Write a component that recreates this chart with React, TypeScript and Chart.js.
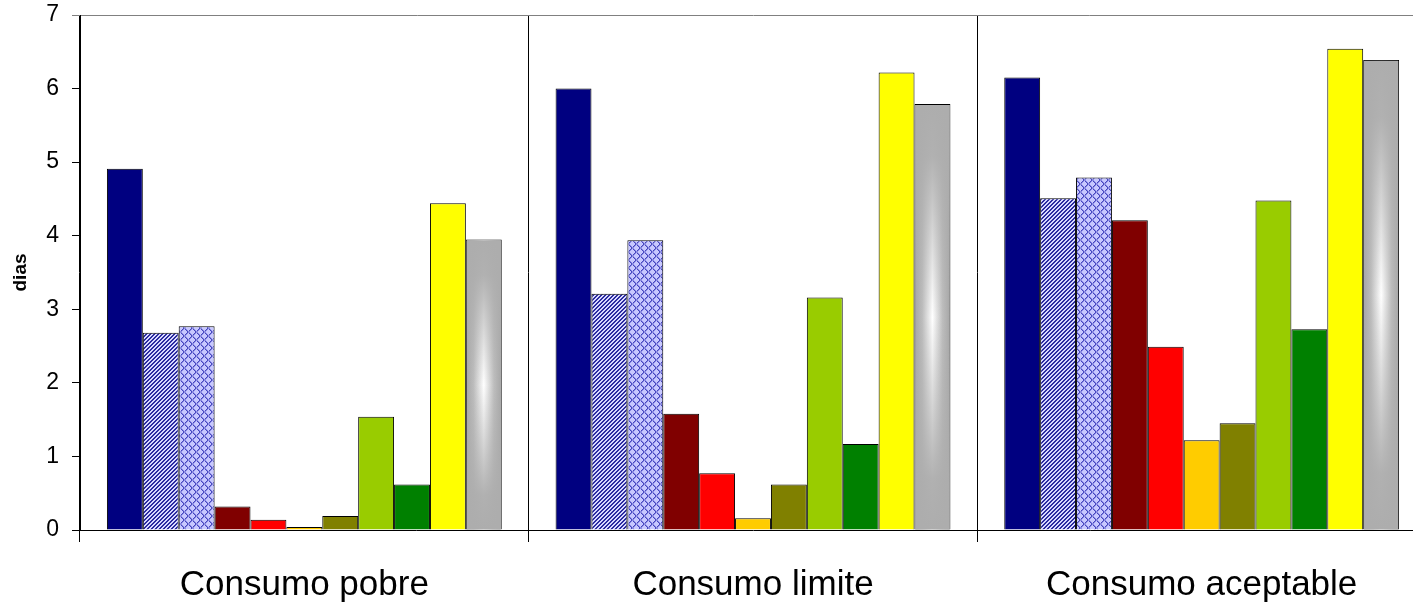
import React, { useEffect, useRef } from 'react';
import { Chart, registerables } from 'chart.js';

Chart.register(...registerables);

const categories = ['Consumo pobre', 'Consumo limite', 'Consumo aceptable'];
const yTicks = [0, 1, 2, 3, 4, 5, 6, 7];
const yTitle = 'dias';

const serieNavy = [4.91, 6.0, 6.15];
const serieHatch = [2.68, 3.21, 4.51];
const serieCross = [2.77, 3.94, 4.79];
const serieDarkRed = [0.32, 1.58, 4.21];
const serieRed = [0.14, 0.77, 2.49];
const serieGold = [0.04, 0.16, 1.22];
const serieOlive = [0.19, 0.62, 1.45];
const serieLightGreen = [1.54, 3.16, 4.48];
const serieDarkGreen = [0.62, 1.17, 2.73];
const serieYellow = [4.44, 6.22, 6.54];
const serieGray = [3.95, 5.79, 6.39];

function makeHatch(): CanvasPattern | string {
  const c = document.createElement('canvas');
  c.width = 4;
  c.height = 4;
  const g = c.getContext('2d');
  if (!g) return '#5555bb';
  g.fillStyle = '#d8d8ff';
  g.fillRect(0, 0, 4, 4);
  g.fillStyle = '#2b2ba0';
  for (let i = 0; i < 4; i++) {
    g.fillRect(i, 3 - i, 1, 1);
    g.fillRect((i + 1) % 4, 3 - i, 1, 1);
  }
  return g.createPattern(c, 'repeat') || '#5555bb';
}

function makeCross(): CanvasPattern | string {
  const n = 8;
  const c = document.createElement('canvas');
  c.width = n;
  c.height = n;
  const g = c.getContext('2d');
  if (!g) return '#ccccff';
  g.fillStyle = '#c8c8ff';
  g.fillRect(0, 0, n, n);
  g.fillStyle = '#4646c0';
  for (let i = 0; i < n; i++) {
    g.fillRect(i, i, 1, 1);
    g.fillRect(i, n - 1 - i, 1, 1);
  }
  g.fillStyle = '#8a8ae0';
  for (let i = 0; i < n; i++) {
    g.fillRect((i + 1) % n, i, 1, 1);
    g.fillRect((i + 1) % n, n - 1 - i, 1, 1);
  }
  return g.createPattern(c, 'repeat') || '#ccccff';
}

const grayIndex = 10;

const grayGradientPlugin = {
  id: 'grayGradient',
  afterDatasetDraw(chart: any, args: any) {
    if (args.index !== grayIndex) return;
    const ctx = chart.ctx as CanvasRenderingContext2D;
    args.meta.data.forEach((el: any) => {
      const { x, y, base, width } = el.getProps(['x', 'y', 'base', 'width'], true);
      const l = x - width / 2 + 1;
      const r = x + width / 2 - 1;
      const t = y + 1;
      const b = base;
      if (r <= l || b <= t) return;
      ctx.save();
      const hg = ctx.createLinearGradient(l, 0, r, 0);
      hg.addColorStop(0, '#a8a8a8');
      hg.addColorStop(0.2, '#bdbdbd');
      hg.addColorStop(0.5, '#ffffff');
      hg.addColorStop(0.8, '#bdbdbd');
      hg.addColorStop(1, '#a8a8a8');
      ctx.fillStyle = hg;
      ctx.fillRect(l, t, r - l, b - t);
      const vg = ctx.createLinearGradient(0, t, 0, b);
      vg.addColorStop(0, 'rgba(173,173,173,1)');
      vg.addColorStop(0.12, 'rgba(173,173,173,0.95)');
      vg.addColorStop(0.5, 'rgba(173,173,173,0)');
      vg.addColorStop(0.88, 'rgba(173,173,173,0.95)');
      vg.addColorStop(1, 'rgba(173,173,173,1)');
      ctx.fillStyle = vg;
      ctx.fillRect(l, t, r - l, b - t);
      ctx.restore();
    });
  },
};

export default function App() {
  const ref = useRef<HTMLCanvasElement | null>(null);

  useEffect(() => {
    document.documentElement.style.overflow = 'hidden';
    document.body.style.overflow = 'hidden';
    const canvas = ref.current;
    if (!canvas) return;
    const family = 'Arial, "Liberation Sans", sans-serif';

    const series = [
      { label: 'Serie 1', data: serieNavy, backgroundColor: '#000080' as any },
      { label: 'Serie 2', data: serieHatch, backgroundColor: makeHatch() as any },
      { label: 'Serie 3', data: serieCross, backgroundColor: makeCross() as any },
      { label: 'Serie 4', data: serieDarkRed, backgroundColor: '#800000' as any },
      { label: 'Serie 5', data: serieRed, backgroundColor: '#ff0000' as any },
      { label: 'Serie 6', data: serieGold, backgroundColor: '#ffcc00' as any },
      { label: 'Serie 7', data: serieOlive, backgroundColor: '#808000' as any },
      { label: 'Serie 8', data: serieLightGreen, backgroundColor: '#99cc00' as any },
      { label: 'Serie 9', data: serieDarkGreen, backgroundColor: '#008000' as any },
      { label: 'Serie 10', data: serieYellow, backgroundColor: '#ffff00' as any },
      { label: 'Serie 11', data: serieGray, backgroundColor: '#adadad' as any },
    ];

    const chart = new Chart(canvas, {
      type: 'bar',
      data: {
        labels: categories,
        datasets: series.map((s) => ({
          ...s,
          borderColor: '#000000',
          borderWidth: 1,
          categoryPercentage: 0.88,
          barPercentage: 1,
        })),
      },
      options: {
        animation: false,
        responsive: false,
        maintainAspectRatio: false,
        devicePixelRatio: 1,
        layout: { padding: { top: 15, right: 4, left: 0, bottom: 0 } },
        plugins: {
          legend: { display: false },
          tooltip: { enabled: false },
        },
        scales: {
          x: {
            afterFit: (scale: any) => {
              scale.height = 73;
              scale.paddingLeft = 0;
              scale.paddingRight = 0;
            },
            grid: {
              offset: true,
              color: '#000000',
              lineWidth: 1,
              tickLength: 12,
              drawOnChartArea: true,
            },
            border: { display: true, color: '#000000', width: 1 },
            ticks: {
              color: '#000000',
              font: { family, size: 35 },
              padding: 22,
              maxRotation: 0,
              autoSkip: false,
            },
          },
          y: {
            min: 0,
            max: 7,
            afterFit: (scale: any) => {
              scale.width = 80;
              scale.paddingTop = 0;
              scale.paddingBottom = 0;
            },
            afterBuildTicks: (scale: any) => {
              scale.ticks = yTicks.map((v) => ({ value: v }));
            },
            grid: {
              color: (c: any) => (c.tick && c.tick.value === 7 ? '#808080' : 'rgba(0,0,0,0)'),
              tickColor: (c: any) => (c.tick && c.tick.value === 7 ? '#808080' : '#000000'),
              tickLength: 8,
              drawOnChartArea: true,
            },
            border: { display: true, color: '#000000', width: 1 },
            ticks: {
              color: '#000000',
              font: { family, size: 23 },
              padding: 13,
              stepSize: 1,
            },
            title: {
              display: true,
              text: yTitle,
              color: '#000000',
              font: { family, size: 19, weight: 'bold' },
              padding: { top: 9, bottom: 0 },
            },
          },
        },
      },
      plugins: [grayGradientPlugin],
    });

    return () => {
      chart.destroy();
    };
  }, []);

  return (
    <div style={{ position: 'absolute', left: 0, top: 0, width: 1430, height: 603, background: '#ffffff' }}>
      <canvas ref={ref} width={1430} height={603} style={{ width: 1430, height: 603, display: 'block' }} />
    </div>
  );
}
